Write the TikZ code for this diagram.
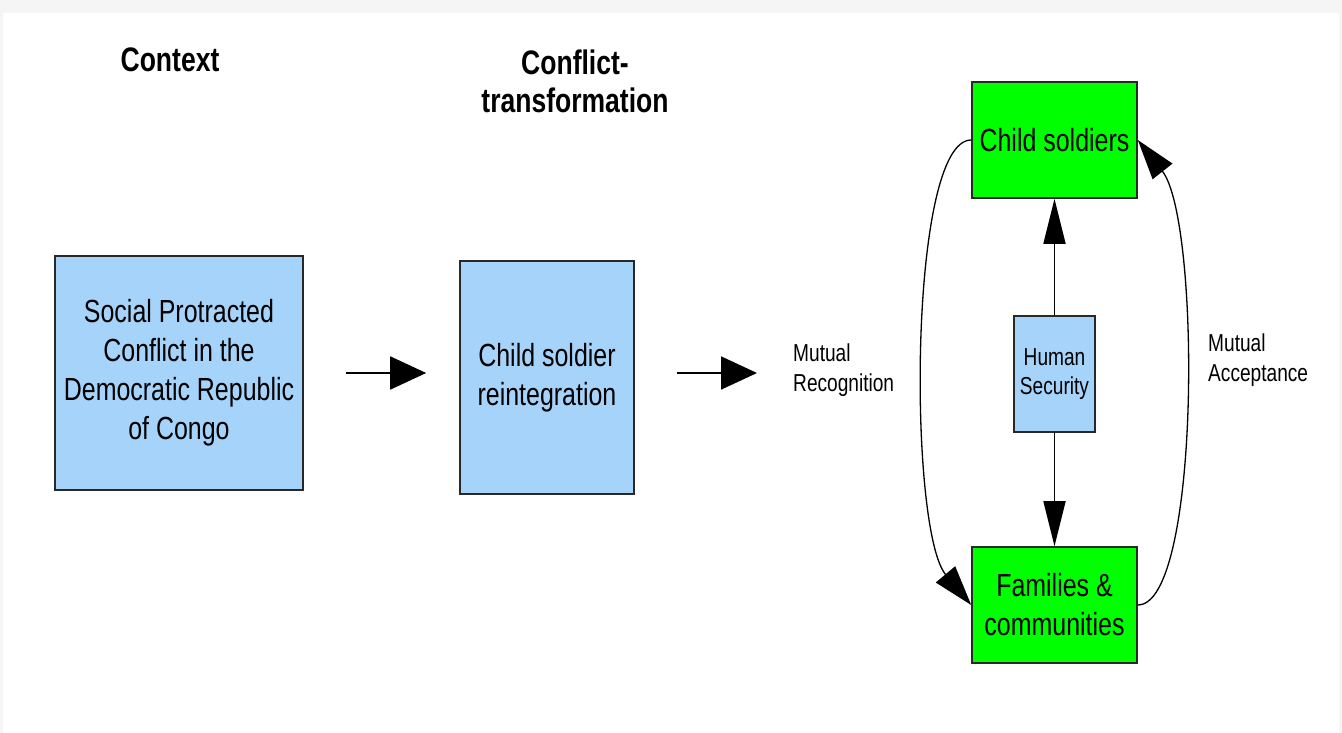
\documentclass[tikz,border=0pt]{standalone}
\usepackage{fontspec}
\setmainfont{Liberation Sans}[FakeStretch=0.78]
\usepackage{tikz}
\usetikzlibrary{arrows.meta,positioning}
\definecolor{boxblue}{RGB}{166,211,250}
\definecolor{boxgreen}{RGB}{0,255,0}
\definecolor{boxline}{RGB}{40,40,40}

\begin{document}
\begin{tikzpicture}[x=1pt,y=-1pt,>={Triangle[length=45pt,width=22pt]}]
	\tikzstyle{block}=[rectangle, draw=boxline, line width=1.6pt, inner sep=0pt, fill=boxblue, font=\fontsize{32}{39}\selectfont]
	\tikzstyle{heading}=[font=\bfseries\fontsize{34}{38}\selectfont, align=center]
	\tikzstyle{small}=[font=\fontsize{24.5}{30}\selectfont, align=left, inner sep=0pt]
	\tikzstyle{every edge}=[draw=black, line width=1.8pt]
	\tikzstyle{flat}=[-{Triangle[length=36pt,width=33pt]}]
	\tikzstyle{loop}=[draw=black, line width=1.3pt, -{Triangle[length=40pt,width=25pt]}]
	
	% page
	\useasboundingbox (0,0) rectangle (1342,733);
	\fill[gray!8] (0,0) rectangle (1342,733);
	\fill[white] (3,13) rectangle (1339,733);
	
	\node[heading] (h1) at (170,60) {Context};
	\node[heading] (h2) at (575,81) {Conflict-\\transformation};
	
	\node[block, minimum width=248pt, minimum height=234pt] (1) at (179,373) {\parbox{240pt}{\centering Social Protracted\\ Conflict in the\\ Democratic Republic\\ of Congo}};
	\node[block, minimum width=174pt, minimum height=233pt] (2) at (547,377.5) {\parbox{170pt}{\centering Child soldier\\ reintegration}};
	\node[small, anchor=west] (3) at (793,370) {Mutual\\Recognition};
	\node[block, fill=boxgreen, minimum width=165pt, minimum height=116pt] (4) at (1054.5,140) {\raisebox{-3pt}{Child soldiers}};
	\node[block, minimum width=81pt, minimum height=116pt, font=\fontsize{24.5}{29}\selectfont] (5) at (1054.5,374) {\parbox{78pt}{\centering Human\\ Security}};
	\node[block, fill=boxgreen, minimum width=165pt, minimum height=116pt] (6) at (1054.5,605) {\parbox{160pt}{\centering Families \&\\ communities}};
	\node[small, anchor=west] (7) at (1208,360) {Mutual\\Acceptance};
	
	\path[flat, shorten <=42pt, shorten >=33pt] (1.east) edge (1.east -| 2.west);
	\path[flat, shorten <=42pt, shorten >=36pt] (1.east -| 2.east) edge (1.east -| 3.west);
	\path[->] (5) edge (4);
	\path[->] (5) edge (6);
	
	\draw[loop] (4.west) .. controls +(-63,0) and +(-63,-75) .. (6.west);
	\draw[loop] (6.east) .. controls +(63,0) and +(63,80) .. (4.east);
	
\end{tikzpicture}
\end{document}
